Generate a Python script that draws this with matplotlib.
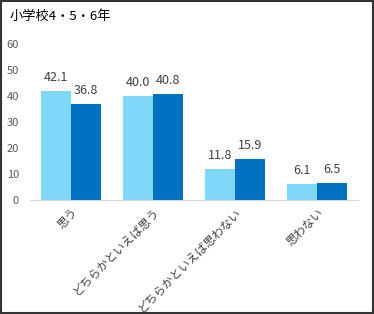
import matplotlib
matplotlib.use("Agg")
import matplotlib.pyplot as plt
from matplotlib.patches import Rectangle
import numpy as np

plt.rcParams['font.family'] = ['Noto Sans CJK JP', 'DejaVu Sans']

title = "小学校4・5・6年"
categories = ["思う", "どちらかといえば思う", "どちらかといえば思わない", "思わない"]
series_a = [42.1, 40.0, 11.8, 6.1]
series_b = [36.8, 40.8, 15.9, 6.5]
yticks = [0, 10, 20, 30, 40, 50, 60]

fig = plt.figure(figsize=(3.74, 3.14), dpi=100)
ax = fig.add_axes([30/374, 1-200/314, 328/374, 156/314])

x = np.arange(len(categories))
w = 0.366
ba = ax.bar(x - w/2, series_a, width=w, color="#7fd7f7")
bb = ax.bar(x + w/2, series_b, width=w, color="#0070c0")
for bars, vals in ((ba, series_a), (bb, series_b)):
    for r, v in zip(bars, vals):
        ax.annotate(f"{v:.1f}", (r.get_x() + r.get_width()/2, v),
                    xytext=(0, 5), textcoords="offset points",
                    ha="center", va="bottom", fontsize=9, color="#404040")

ax.set_xlim(-0.5, 3.5)
ax.set_ylim(0, 60)
ax.set_yticks(yticks)
ax.set_yticklabels([str(t) for t in yticks], fontsize=8, color="#595959")
ax.set_xticks(x)
ax.set_xticklabels(categories, rotation=45, ha="right", rotation_mode="anchor",
                   fontsize=8.5, color="#404040")
ax.tick_params(axis="both", length=0)
ax.tick_params(axis="y", pad=8)
ax.tick_params(axis="x", pad=4)
for s in ("top", "right", "left"):
    ax.spines[s].set_visible(False)
ax.spines["bottom"].set_color("#d9d9d9")

fig.text(10/374, 1-16/314, title, fontsize=9.5, va="center", ha="left", color="#000000")

fig.patches.append(Rectangle((0.002, 0.003), 0.995, 0.994, transform=fig.transFigure,
                             fill=False, edgecolor="#333333", linewidth=1.5))

fig.savefig("out.png", dpi=100)
